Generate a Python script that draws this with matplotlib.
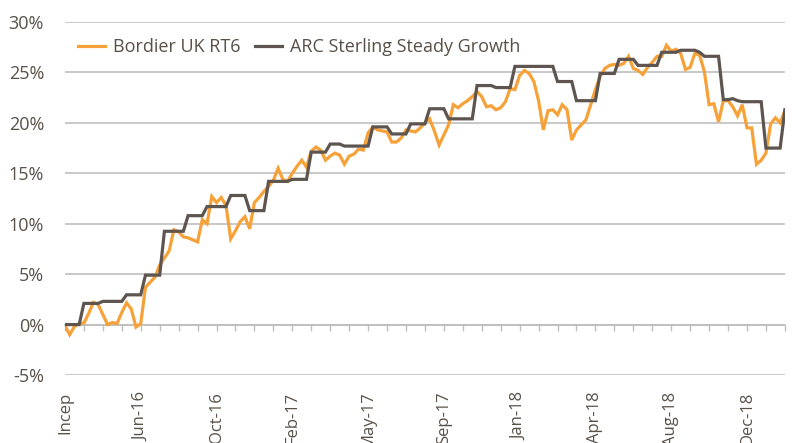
import numpy as np
import matplotlib.pyplot as plt

# weekly cumulative performance (%), from inception
bordier = [
    -0.1, -1.0, -0.2, 0.1, 0.15, 1.1, 2.2, 2.0, 1.0, 0.0,
    0.2, 0.1, 1.2, 2.15, 1.55, -0.25, 0.1, 3.7, 4.2, 4.7,
    5.9, 6.6, 7.3, 9.4, 9.2, 8.7, 8.6, 8.4, 8.2, 10.4,
    10.0, 12.7, 12.1, 12.6, 11.8, 8.5, 9.3, 10.2, 10.7, 9.5,
    12.1, 12.6, 13.2, 13.7, 14.3, 15.5, 14.4, 14.2, 15.0, 15.7,
    16.3, 15.6, 17.2, 17.6, 17.3, 16.3, 16.7, 17.0, 16.8, 15.9,
    16.7, 16.9, 17.4, 17.3, 19.0, 19.6, 19.3, 19.2, 19.1, 18.1,
    18.1, 18.5, 19.3, 19.2, 19.1, 19.5, 20.0, 20.4, 19.2, 17.8,
    18.8, 19.8, 21.8, 21.5, 21.9, 22.2, 22.6, 23.1, 22.6, 21.6,
    21.7, 21.3, 21.5, 22.1, 23.4, 23.3, 24.7, 25.2, 24.9, 24.1,
    22.2, 19.3, 21.2, 21.3, 20.8, 21.8, 21.3, 18.3, 19.3, 19.8,
    20.3, 21.8, 23.3, 24.6, 25.4, 25.7, 25.8, 25.7, 25.9, 26.6,
    25.4, 25.2, 24.8, 25.5, 26.0, 26.6, 26.6, 27.7, 27.1, 27.3,
    26.9, 25.3, 25.5, 26.9, 26.7, 25.1, 21.8, 21.9, 20.1, 22.2,
    22.2, 21.6, 20.7, 21.8, 19.5, 19.5, 15.9, 16.3, 17.0, 19.9,
    20.5, 20.0, 21.2]

arc = [
    0.0, 0.0, 0.0, 0.0, 2.1, 2.1, 2.1, 2.1, 2.3, 2.3,
    2.3, 2.3, 2.3, 2.95, 2.95, 2.95, 2.95, 4.9, 4.9, 4.9,
    4.9, 9.25, 9.25, 9.25, 9.25, 9.25, 10.8, 10.8, 10.8, 10.8,
    11.7, 11.7, 11.7, 11.7, 11.7, 12.8, 12.8, 12.8, 12.8, 11.3,
    11.3, 11.3, 11.3, 14.2, 14.2, 14.2, 14.2, 14.2, 14.4, 14.4,
    14.4, 14.4, 17.1, 17.1, 17.1, 17.1, 17.9, 17.9, 17.9, 17.7,
    17.7, 17.7, 17.7, 17.7, 17.7, 19.6, 19.6, 19.6, 19.6, 18.9,
    18.9, 18.9, 18.9, 19.9, 19.9, 19.9, 19.9, 21.4, 21.4, 21.4,
    21.4, 20.4, 20.4, 20.4, 20.4, 20.4, 20.4, 23.7, 23.7, 23.7,
    23.7, 23.5, 23.5, 23.5, 23.5, 25.6, 25.6, 25.6, 25.6, 25.6,
    25.6, 25.6, 25.6, 25.6, 24.1, 24.1, 24.1, 24.1, 22.2, 22.2,
    22.2, 22.2, 22.2, 24.9, 24.9, 24.9, 24.9, 26.3, 26.3, 26.3,
    26.3, 25.7, 25.7, 25.7, 25.7, 25.7, 27.0, 27.0, 27.0, 27.0,
    27.2, 27.2, 27.2, 27.2, 27.0, 26.6, 26.6, 26.6, 26.6, 22.3,
    22.3, 22.4, 22.2, 22.1, 22.1, 22.1, 22.1, 22.1, 17.5, 17.5,
    17.5, 17.5, 21.3]

date_labels = ['Incep', 'Jun-16', 'Oct-16', 'Feb-17', 'May-17',
               'Sep-17', 'Jan-18', 'Apr-18', 'Aug-18', 'Dec-18']
weeks_per_tick = 4
ticks_per_label = 4

orange = '#F7A139'
grey = '#5E5550'
txt = '#595047'
grid = '#BFBFBF'

plt.rcParams['font.family'] = 'Open Sans'
fs = 13

x = np.arange(len(bordier))

fig = plt.figure(figsize=(7.92, 4.43), dpi=100)
ax = fig.add_axes([0.082, 0.1535, 0.909, 0.7968])

ax.plot(x, bordier, color=orange, lw=2.3, label='Bordier UK RT6', solid_joinstyle='miter')
ax.plot(x, arc, color=grey, lw=2.3, label='ARC Sterling Steady Growth', solid_joinstyle='miter')

ax.set_xlim(0, len(x) - 1)
ax.set_ylim(-5, 30)
ax.set_yticks(np.arange(-5, 31, 5))
ax.set_yticklabels([f'{v}%' for v in range(-5, 31, 5)])
ax.yaxis.grid(True, color=grid, lw=1.2)
ax.set_axisbelow(True)
for s in ax.spines.values():
    s.set_visible(False)

ax.tick_params(axis='y', length=0, pad=15, labelsize=fs, labelcolor=txt)
label_pos = np.arange(len(date_labels)) * weeks_per_tick * ticks_per_label
ax.set_xticks(label_pos)
ax.set_xticklabels(date_labels, rotation=90, va='top', ha='center')
ax.tick_params(axis='x', length=0, pad=12, labelsize=12, labelcolor=txt)

# monthly tick marks on the zero line
zero = ax.secondary_xaxis(5 / 35)
zero.set_xticks(np.arange(0, len(x), weeks_per_tick))
zero.tick_params(axis='x', direction='out', length=4, width=1, color=grid, labelbottom=False)
zero.spines['bottom'].set_color(grid)
zero.spines['bottom'].set_linewidth(1.2)

leg = ax.legend(loc='center left', bbox_to_anchor=(0.018, 0.929), ncol=2, frameon=False,
                fontsize=fs, handlelength=1.5, handletextpad=0.45, columnspacing=0.8,
                borderpad=0, borderaxespad=0)
for t in leg.get_texts():
    t.set_color(txt)

fig.savefig('out.png', dpi=100)
